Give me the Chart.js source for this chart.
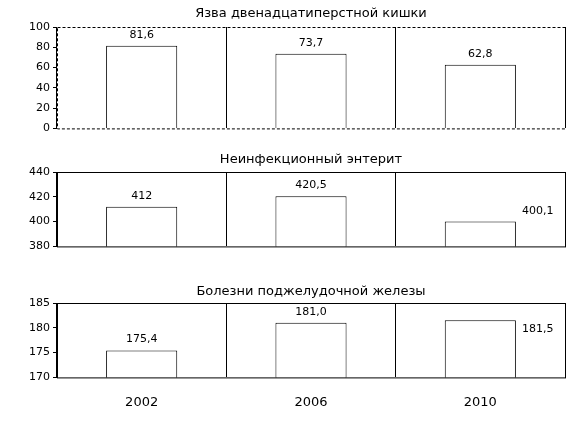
<!DOCTYPE html>
<html>
<head>
<script src="https://cdn.jsdelivr.net/npm/chart.js@4/dist/chart.umd.min.js"></script>
<style>
body{margin:0;background:#fff;font-family:"DejaVu Sans",sans-serif;overflow:hidden}
.box{position:absolute;left:0;width:582px}
</style>
</head>
<body>
<div class="box" style="top:0;height:138px"><canvas id="c1"></canvas></div>
<div class="box" style="top:146px;height:110px"><canvas id="c2"></canvas></div>
<div class="box" style="top:278px;height:149px"><canvas id="c3"></canvas></div>
<script>
var years = ["2002", "2006", "2010"];
var titles = ["Язва двенадцатиперстной кишки", "Неинфекционный энтерит", "Болезни поджелудочной железы"];
var ulcer = [81.6, 73.7, 62.8];
var enteritis = [412, 420.5, 400.1];
var pancreas = [175.4, 181.0, 181.5];
var labels1 = ["81,6", "73,7", "62,8"];
var labels2 = ["412", "420,5", "400,1"];
var labels3 = ["175,4", "181,0", "181,5"];

var deco = {
  id: 'deco',
  afterDraw: function (chart) {
    var o = chart.options.plugins.deco, ctx = chart.ctx, a = chart.chartArea;
    ctx.save();
    ctx.strokeStyle = '#000'; ctx.lineWidth = 1;
    if (o.dashed) ctx.setLineDash([3, 2]);
    ctx.strokeRect(a.left + 0.5, a.top + 0.5, a.right - a.left, a.bottom - a.top);
    ctx.setLineDash([]);
    ctx.fillStyle = '#000';
    ctx.font = '13px "DejaVu Sans", sans-serif';
    ctx.textAlign = 'center'; ctx.textBaseline = 'middle';
    ctx.fillText(o.title, (a.left + a.right) / 2, o.titleY);
    ctx.font = '11px "DejaVu Sans", sans-serif';
    var meta = chart.getDatasetMeta(0);
    meta.data.forEach(function (b, i) {
      if (o.side[i]) {
        ctx.textAlign = 'left';
        ctx.fillText(o.labels[i], b.x + b.width / 2 + 6, b.y + o.side[i]);
      } else {
        ctx.textAlign = 'center';
        ctx.fillText(o.labels[i], b.x, b.y - 11);
      }
    });
    ctx.restore();
  }
};

function make(id, data, min, max, step, o, showX, pad) {
  new Chart(document.getElementById(id), {
    type: 'bar',
    data: { labels: years, datasets: [{ data: data, backgroundColor: '#fff', borderColor: '#000', borderWidth: 1, barPercentage: 0.42, categoryPercentage: 1 }] },
    options: {
      responsive: true, maintainAspectRatio: false, animation: false,
      layout: { padding: pad },
      plugins: { legend: { display: false }, tooltip: { enabled: false }, deco: o },
      scales: {
        x: {
          grid: { offset: true, color: '#000', drawTicks: false },
          border: { display: false },
          ticks: { display: showX, color: '#000', padding: 17, font: { size: 13, family: '"DejaVu Sans"' } }
        },
        y: {
          min: min, max: max,
          afterFit: function (s) { s.width = 57; },
          grid: { drawOnChartArea: false, color: '#000', tickLength: 4 },
          border: { display: false },
          ticks: { stepSize: step, color: '#000', padding: 3, font: { size: 11, family: '"DejaVu Sans"' } }
        }
      }
    },
    plugins: [deco]
  });
}

make('c1', ulcer, 0, 100, 20, { title: titles[0], titleY: 14, labels: labels1, side: [0, 0, 0], dashed: true }, false, { top: 27, right: 17, bottom: 0 });
make('c2', enteritis, 380, 440, 20, { title: titles[1], titleY: 14, labels: labels2, side: [0, 0, -10], dashed: false }, false, { top: 26, right: 17, bottom: 0 });
make('c3', pancreas, 170, 185, 5, { title: titles[2], titleY: 14, labels: labels3, side: [0, 0, 9], dashed: false }, true, { top: 25, right: 17, bottom: 0 });
</script>
</body>
</html>
